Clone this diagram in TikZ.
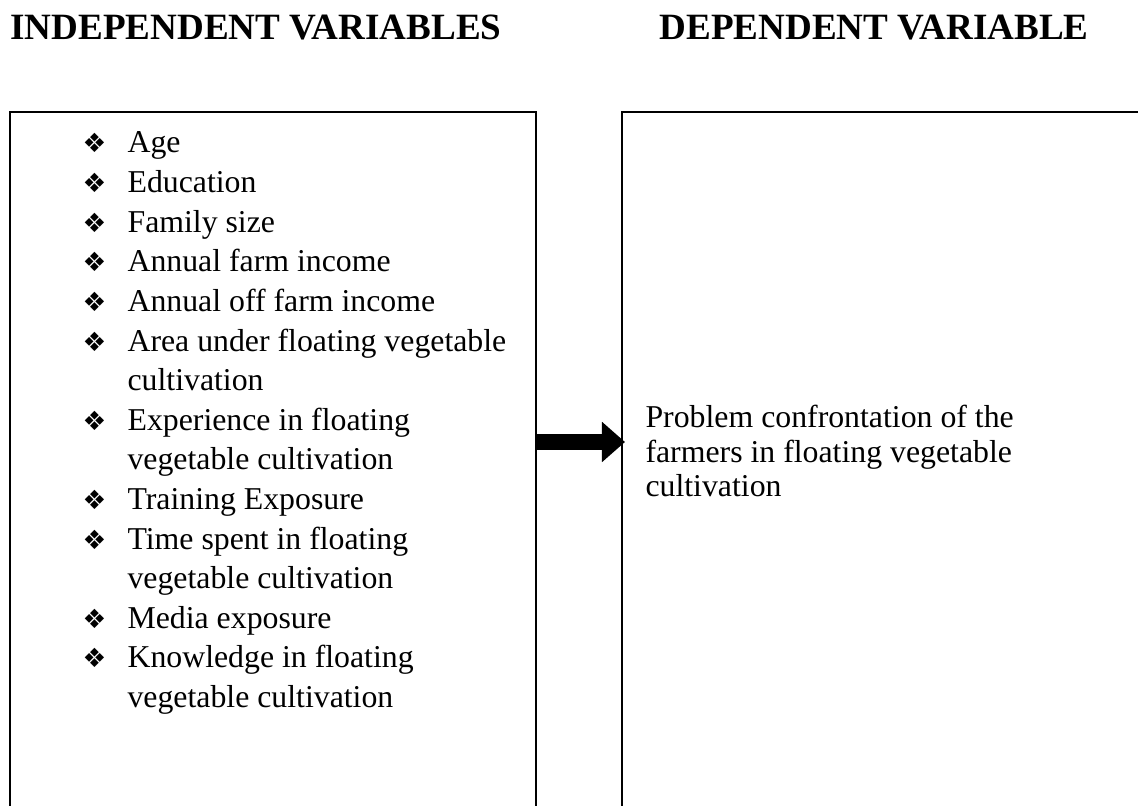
\documentclass[tikz,border=0pt]{standalone}
\usepackage{fontspec}
\setmainfont{Liberation Serif}
\newfontfamily\dingfont{DejaVu Sans}
\usetikzlibrary{arrows.meta}

\newcommand{\bul}{\makebox[17pt][l]{\dingfont\fontsize{10}{12}\selectfont ❖}}

\tikzset{
    heading/.style={anchor=base west, inner sep=0pt, font=\bfseries\fontsize{14}{16}\selectfont},
    frame/.style={line width=0.8pt},
    bigarrow/.style={line width=6.4pt, -{Triangle[length=8.7pt, width=14.7pt]}}
}

\begin{document}
\begin{tikzpicture}[x=0.3774pt, y=-0.3774pt]
    \useasboundingbox (0,0) rectangle (1138,806);

    \node[heading] (h1) at (10,40)  {INDEPENDENT VARIABLES};
    \node[heading] (h2) at (659,40) {DEPENDENT VARIABLE};

    % boxes run off the page
    \draw[frame] (10,900) rectangle (536,112);
    \draw[frame] (622,112) rectangle (1300,900);

    \node[anchor=base west, inner sep=0pt, font=\fontsize{12}{14.95}\selectfont] (vars) at (82,153) {%
        \begin{tabular}[t]{@{}l@{}l@{}}
        \bul & Age\\
        \bul & Education\\
        \bul & Family size\\
        \bul & Annual farm income\\
        \bul & Annual off farm income\\
        \bul & Area under floating vegetable\\
             & cultivation\\
        \bul & Experience in floating\\
             & vegetable cultivation\\
        \bul & Training Exposure\\
        \bul & Time spent in floating\\
             & vegetable cultivation\\
        \bul & Media exposure\\
        \bul & Knowledge in floating\\
             & vegetable cultivation
        \end{tabular}};

    % base of a multi-line node sits on its last line
    \node[anchor=base west, inner sep=0pt, align=left, font=\fontsize{12}{13.2}\selectfont] (prob) at (645,497)
        {Problem confrontation of the\\farmers in floating vegetable\\cultivation};

    \coordinate (a1) at (536,442);
    \coordinate (a2) at (625,442);
    \draw[bigarrow] (a1) -- (a2);
\end{tikzpicture}
\end{document}
